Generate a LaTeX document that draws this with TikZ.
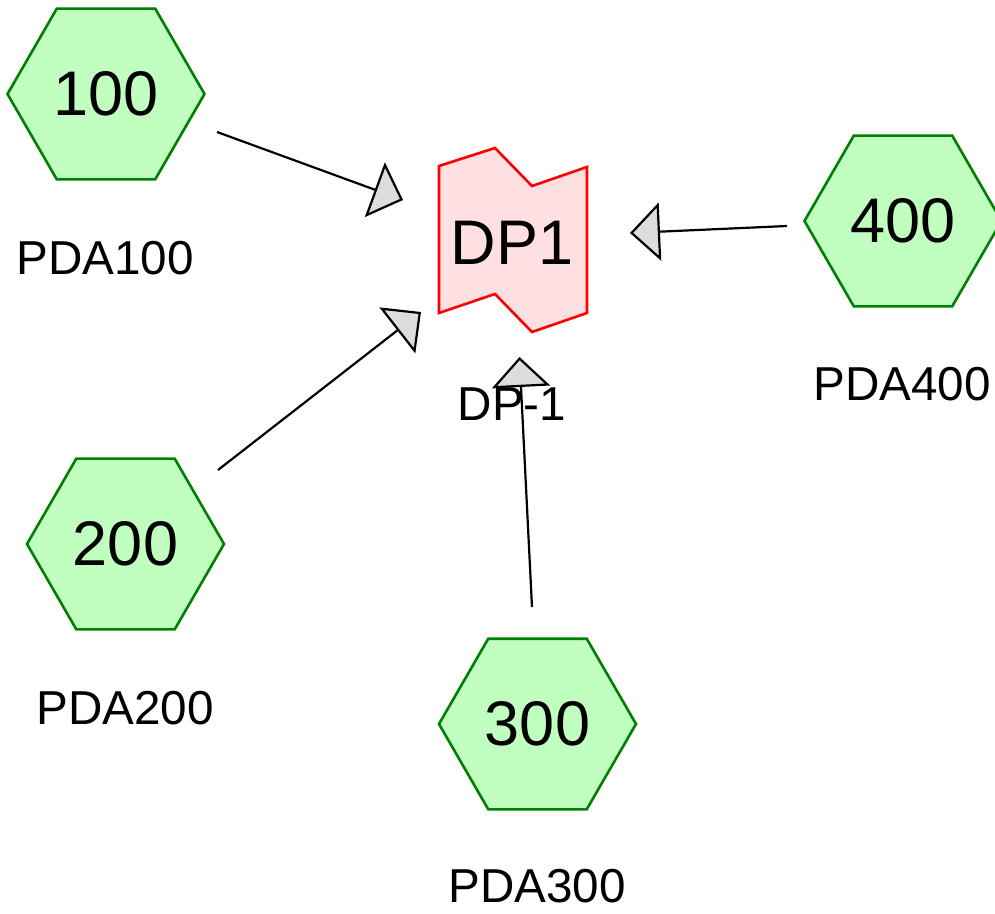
\documentclass[tikz,border=0pt]{standalone}
\usepackage{fontspec}
\setmainfont{Liberation Sans}
\usetikzlibrary{shapes.geometric,arrows.meta}
\definecolor{hexfill}{HTML}{C0FFC0}
\definecolor{hexdraw}{HTML}{008000}
\definecolor{dpfill}{HTML}{FFE0E2}
\definecolor{tipfill}{HTML}{DDDDDD}
\tikzset{
  hexa/.style={regular polygon, regular polygon sides=6, minimum size=98.5pt, inner sep=0pt,
    fill=hexfill, draw=hexdraw, line width=1.3pt, font=\fontsize{31.5}{38}\selectfont},
  lbl/.style={font=\fontsize{23.8}{28}\selectfont, inner sep=0pt},
  conn/.style={line width=1.1pt, -{Triangle[length=15pt, width=29pt, fill=tipfill]}},
}
\begin{document}
\begin{tikzpicture}[x=0.5pt, y=-0.5pt]
\useasboundingbox (0,0) rectangle (995,914);
\clip (0,0) rectangle (995,914);
% DP shape
\draw[fill=dpfill, draw=red, line width=1.3pt]
  (439,166) -- (495,148) -- (532,186) -- (587,167) -- (587,313) -- (532,332) -- (495,294) -- (439,313) -- cycle;
\node[font=\fontsize{31.5}{38}\selectfont, inner sep=0pt] (dp) at (512,243) {DP1};
\node[lbl] (dplbl) at (512,404) {DP-1};
% hexagons
\node[hexa] (h100) at (106,94) {100};
\node[hexa] (h200) at (125.5,544) {200};
\node[hexa] (h300) at (537.5,724) {300};
\node[hexa] (h400) at (903,221) {400};
\node[lbl] (l100) at (105,258) {PDA100};
\node[lbl] (l200) at (125,708) {PDA200};
\node[lbl] (l300) at (537,886) {PDA300};
\node[lbl] (l400) at (902,384) {PDA400};
% connector endpoints
\coordinate (s1) at (217,132);
\coordinate (t1) at (403,200);
\coordinate (s2) at (218,470);
\coordinate (t2) at (421,312);
\coordinate (s3) at (532,607);
\coordinate (t3) at (519.5,357);
\coordinate (s4) at (787,226);
\coordinate (t4) at (630,233);
\draw[conn] (s1) -- (t1);
\draw[conn] (s2) -- (t2);
\draw[conn] (s3) -- (t3);
\draw[conn] (s4) -- (t4);
\end{tikzpicture}
\end{document}
